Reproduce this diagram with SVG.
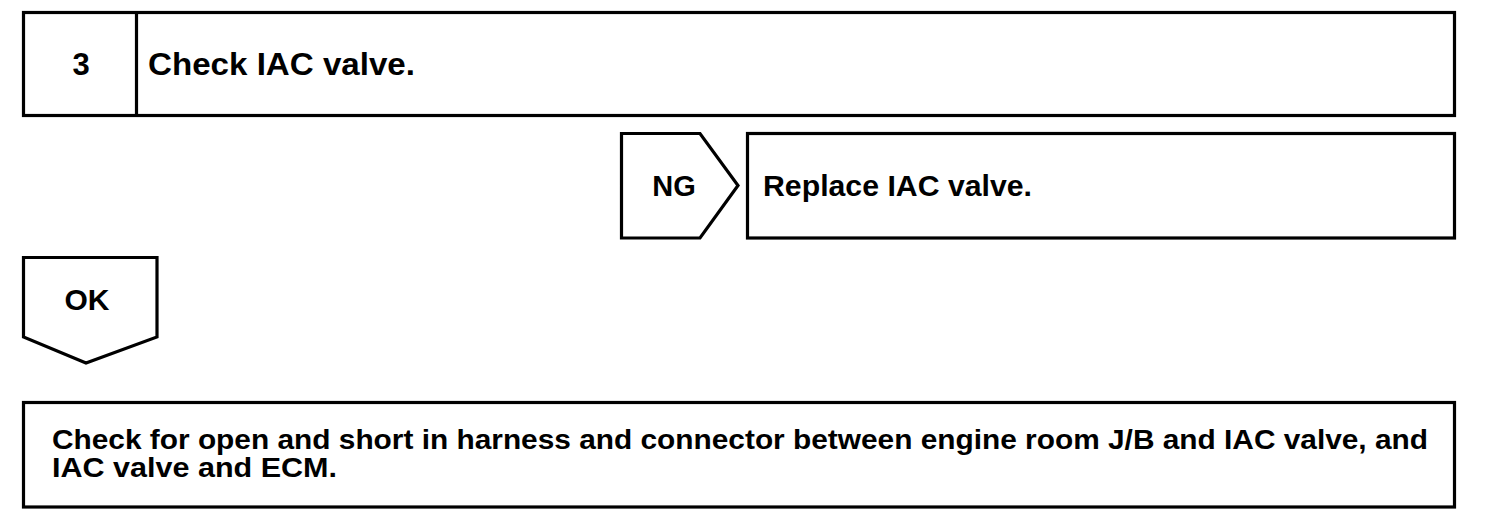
<svg xmlns="http://www.w3.org/2000/svg" width="1504" height="526" viewBox="0 0 1504 526">
<style>
.box{fill:#fff;stroke:#000;stroke-width:3.2;stroke-linejoin:miter}
.t{font-family:"Liberation Sans",Arial,sans-serif;font-weight:bold;fill:#000}
</style>
<rect width="1504" height="526" fill="#fff"/>
<g id="step3">
<rect class="box" x="23.5" y="12.5" width="1431" height="103"/>
<line x1="136.5" y1="12.5" x2="136.5" y2="115.5" stroke="#000" stroke-width="3.2"/>
<text class="t" x="81" y="75" font-size="31" text-anchor="middle">3</text>
<text class="t" x="148" y="75" font-size="31" textLength="267" lengthAdjust="spacingAndGlyphs">Check IAC valve.</text>
</g>
<g id="ng">
<polygon class="box" points="621.5,133.5 700,133.5 738,185.5 700,238 621.5,238"/>
<text class="t" x="674" y="196" font-size="29" text-anchor="middle">NG</text>
</g>
<g id="replace">
<rect class="box" x="747.5" y="133.5" width="707" height="104.5"/>
<text class="t" x="763" y="196" font-size="29" textLength="269" lengthAdjust="spacingAndGlyphs">Replace IAC valve.</text>
</g>
<g id="ok">
<polygon class="box" points="23.5,257.5 157,257.5 157,337 86,363 23.5,337"/>
<text class="t" x="87" y="310" font-size="30" text-anchor="middle">OK</text>
</g>
<g id="check-harness">
<rect class="box" x="23.5" y="402.5" width="1431" height="104.5"/>
<text class="t" x="52" y="449" font-size="27" textLength="1376" lengthAdjust="spacingAndGlyphs">Check for open and short in harness and connector between engine room J/B and IAC valve, and</text>
<text class="t" x="52" y="477" font-size="27" textLength="285" lengthAdjust="spacingAndGlyphs">IAC valve and ECM.</text>
</g>
<g id="connectors"></g>
</svg>
